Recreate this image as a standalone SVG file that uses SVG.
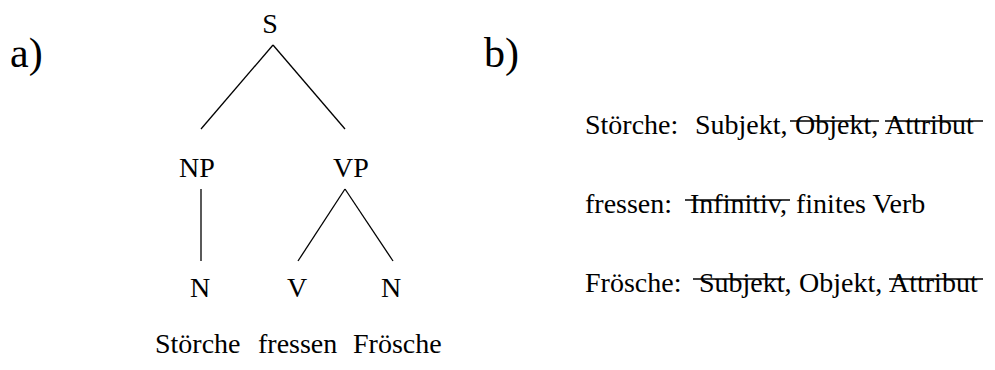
<svg xmlns="http://www.w3.org/2000/svg" width="995" height="370" viewBox="0 0 995 370">
  <style>
    text { font-family: 'Liberation Serif', 'DejaVu Serif', serif; fill: #000; }
    .lab { font-size: 28px; }
    .big { font-size: 42px; }
    .mid { text-anchor: middle; }
    .edge { stroke: #000; stroke-width: 1.3; fill: none; }
    .strike { stroke: #000; stroke-width: 1.5; }
  </style>
  <rect width="995" height="370" fill="#fff"/>

  <!-- panel labels -->
  <text id="label-a" class="big" font-family="Liberation Serif" x="10" y="67">a)</text>
  <text id="label-b" class="big" font-family="Liberation Serif" x="484" y="67">b)</text>

  <!-- tree edges -->
  <g id="edges">
    <path class="edge" d="M273 45 L201 129"/>
    <path class="edge" d="M273 45 L345 129"/>
    <path class="edge" d="M201 189 L201 261"/>
    <path class="edge" d="M345 189 L298 261"/>
    <path class="edge" d="M345 189 L393 261"/>
  </g>

  <!-- tree nodes -->
  <g id="node-S"><text class="lab mid" font-family="Liberation Serif" x="270" y="33">S</text></g>
  <g id="node-NP"><text class="lab mid" font-family="Liberation Serif" x="197" y="177">NP</text></g>
  <g id="node-VP"><text class="lab mid" font-family="Liberation Serif" x="351" y="177">VP</text></g>
  <g id="node-N1"><text class="lab mid" font-family="Liberation Serif" x="200" y="297">N</text></g>
  <g id="node-V"><text class="lab mid" font-family="Liberation Serif" x="297" y="297">V</text></g>
  <g id="node-N2"><text class="lab mid" font-family="Liberation Serif" x="391" y="297">N</text></g>

  <!-- sentence -->
  <g id="sentence" font-family="Liberation Serif">
    <text class="lab" x="155" y="353">Störche</text>
    <text class="lab" x="258" y="353">fressen</text>
    <text class="lab" x="353" y="353">Frösche</text>
  </g>

  <!-- feature list -->
  <g id="row-stoerche" font-family="Liberation Serif">
    <text class="lab" x="585" y="134">Störche:</text>
    <text class="lab" x="695" y="134">Subjekt,</text>
    <text class="lab" x="795" y="134">Objekt,</text>
    <text class="lab" x="885" y="134">Attribut</text>
    <line class="strike" x1="790" y1="121" x2="879" y2="121"/>
    <line class="strike" x1="885" y1="121" x2="983" y2="121"/>
  </g>
  <g id="row-fressen" font-family="Liberation Serif">
    <text class="lab" x="585" y="213">fressen:</text>
    <text class="lab" x="690" y="213">Infinitiv,</text>
    <text class="lab" x="796" y="213">finites Verb</text>
    <line class="strike" x1="685" y1="200" x2="790" y2="200"/>
  </g>
  <g id="row-froesche" font-family="Liberation Serif">
    <text class="lab" x="585" y="292">Frösche:</text>
    <text class="lab" x="699" y="292">Subjekt,</text>
    <text class="lab" x="799" y="292">Objekt,</text>
    <text class="lab" x="889" y="292">Attribut</text>
    <line class="strike" x1="693" y1="279" x2="785" y2="279"/>
    <line class="strike" x1="889" y1="279" x2="983" y2="279"/>
  </g>
</svg>
